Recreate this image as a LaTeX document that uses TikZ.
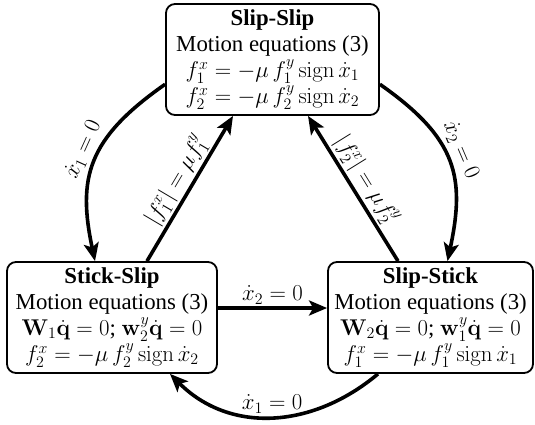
\RequirePackage{fix-cm}
\documentclass[tikz,border=0pt]{standalone}
\usepackage{amsmath}
\usepackage[no-math]{fontspec}
\setmainfont{Liberation Serif}
\usetikzlibrary{arrows.meta,calc}
\begin{document}
\begin{tikzpicture}[x=1pt,y=1pt,
  box/.style={draw, line width=1.8pt, rounded corners=9pt, align=center,
    minimum height=111pt, inner sep=0pt, font=\fontsize{22.8}{26}\selectfont},
  conn/.style={line width=3.6pt, -{Stealth[length=18pt,width=15pt,inset=4pt]}},
  lab/.style={font=\fontsize{22.8}{26}\selectfont, inner sep=2pt}]
\useasboundingbox (0,0) rectangle (535,424);
\node[box, minimum width=213pt] (ss) at (272.5,364.5)
  {\textbf{Slip-Slip}\\Motion equations (3)\\
   $f_1^x=-\mu\,f_1^y\operatorname{sign}\dot x_1$\\
   $f_2^x=-\mu\,f_2^y\operatorname{sign}\dot x_2$};
\node[box, minimum width=210pt] (sks) at (112,106.5)
  {\textbf{Stick-Slip}\\Motion equations (3)\\
   $\mathbf{W}_1\dot{\mathbf{q}}=0$; $\mathbf{w}_2^y\dot{\mathbf{q}}=0$\\
   $f_2^x=-\mu\,f_2^y\operatorname{sign}\dot x_2$};
\node[box, minimum width=205pt] (sst) at (430.5,106.5)
  {\textbf{Slip-Stick}\\Motion equations (3)\\
   $\mathbf{W}_2\dot{\mathbf{q}}=0$; $\mathbf{w}_1^y\dot{\mathbf{q}}=0$\\
   $f_1^x=-\mu\,f_1^y\operatorname{sign}\dot x_1$};
\draw[conn] (ss.193) .. controls +(215:95) and +(102:85) .. ([xshift=-17pt]sks.north)
  node[lab, pos=0.46, sloped, above, inner sep=4pt] {$\dot x_1=0$};
\draw[conn] (ss.-13) .. controls +(-35:95) and +(78:85) .. ([xshift=17pt]sst.north)
  node[lab, pos=0.46, sloped, above, inner sep=4pt] {$\dot x_2=0$};
\draw[conn] ([xshift=35pt]sks.north) -- ([xshift=-39.5pt]ss.south)
  node[lab, midway, sloped, above] {$|f_1^x|=\mu f_1^y$};
\draw[conn] ([xshift=-32.5pt]sst.north) -- ([xshift=35.5pt]ss.south)
  node[lab, midway, sloped, above] {$|f_2^x|=\mu f_2^y$};
\draw[conn] ([yshift=9.5pt]sks.east) -- ([yshift=9.5pt]sst.west)
  node[lab, midway, above] {$\dot x_2=0$};
\draw[conn] ([xshift=-52.5pt]sst.south) .. controls +(220:85) and +(-45:85) .. ([xshift=58pt]sks.south)
  node[lab, midway, above] {$\dot x_1=0$};
\end{tikzpicture}
\end{document}
